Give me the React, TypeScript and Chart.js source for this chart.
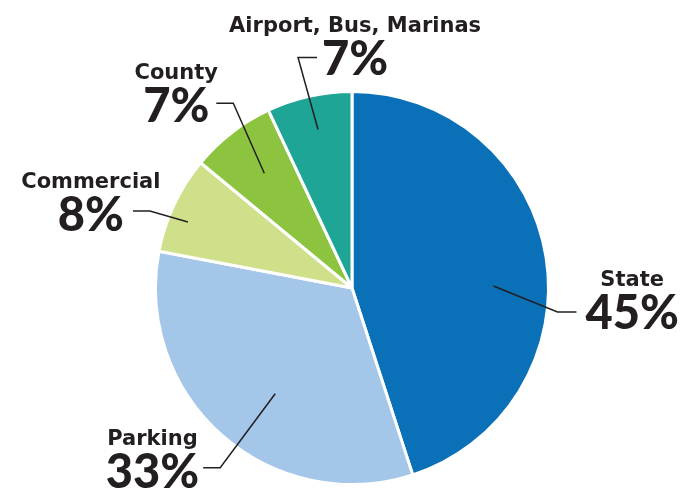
import React, { useEffect, useRef } from "react";
import { Chart, registerables } from "chart.js";

Chart.register(...registerables);

const categories = ["State", "Parking", "Commercial", "County", "Airport, Bus, Marinas"];
const values = [45, 33, 8, 7, 7];
const colors = ["#0a70b8", "#a4c6e8", "#cfe08a", "#8cc43f", "#1fa596"];

// leader-line layout per slice: angle tweak (deg), radius fraction, elbow offset, end run,
// text side, gap between line end and percent text, baseline offset below line
const leaderLayout = [
  { da: 8.2, rf: 0.72, ex: 64, ey: 26, run: 19, side: "right", gap: 9, dy: 17 },
  { da: -5.4, rf: 0.665, ex: -55, ey: 74, run: -17, side: "left", gap: 4, dy: 20 },
  { da: -3.3, rf: 0.9, ex: -38, ey: -11, run: -17, side: "left", gap: 9, dy: 20 },
  { da: 0.4, rf: 0.735, ex: -31, ey: -70, run: -17, side: "left", gap: 7, dy: 19 },
  { da: 0.5, rf: 0.825, ex: -20, ey: -72, run: 19, side: "right", gap: 5, dy: 18 },
];

const PCT_FONT = "900 47px Lato";
const NAME_FONT = "bold 21px 'DejaVu Sans'";

const labelPlugin = {
  id: "leaderLabels",
  afterDraw(chart: any) {
    const ctx = chart.ctx;
    const meta = chart.getDatasetMeta(0);
    const total = values.reduce((a, b) => a + b, 0);
    meta.data.forEach((arc: any, i: number) => {
      const L = leaderLayout[i];
      const mid = (arc.startAngle + arc.endAngle) / 2 + (L.da * Math.PI) / 180;
      const r = arc.outerRadius * L.rf;
      const sx = arc.x + Math.cos(mid) * r;
      const sy = arc.y + Math.sin(mid) * r;
      const bx = sx + L.ex;
      const by = sy + L.ey;
      const endX = bx + L.run;
      ctx.save();
      ctx.strokeStyle = "#231f20";
      ctx.lineWidth = 1.5;
      ctx.beginPath();
      ctx.moveTo(sx, sy);
      ctx.lineTo(bx, by);
      ctx.lineTo(endX, by);
      ctx.stroke();

      const pct = Math.round((values[i] / total) * 100) + "%";
      ctx.fillStyle = "#231f20";
      ctx.textBaseline = "alphabetic";
      ctx.font = PCT_FONT + ", sans-serif";
      const pw = ctx.measureText(pct).width;
      const px = L.side === "right" ? endX + L.gap : endX - L.gap - pw;
      const base = by + L.dy;
      ctx.textAlign = "left";
      ctx.fillText(pct, px, base);
      ctx.font = NAME_FONT + ", sans-serif";
      ctx.textAlign = "center";
      ctx.fillText(categories[i], px + pw / 2, base - 43);
      ctx.restore();
    });
  },
};

export default function App() {
  const ref = useRef<HTMLCanvasElement>(null);
  useEffect(() => {
    document.body.style.margin = "0";
    let chart: any = null;
    let cancelled = false;
    const make = () => {
      if (cancelled || !ref.current) return;
      chart = new Chart(ref.current, {
        type: "pie",
        data: {
          labels: categories,
          datasets: [
            {
              data: values,
              backgroundColor: colors,
              borderColor: "#ffffff",
              borderWidth: 3,
            },
          ],
        },
        options: {
          responsive: false,
          animation: false,
          layout: { padding: { left: 154, right: 144, top: 90, bottom: 3 } },
          plugins: { legend: { display: false }, tooltip: { enabled: false } },
        },
        plugins: [labelPlugin],
      });
    };
    Promise.all([document.fonts.load(PCT_FONT, "0123456789%"), document.fonts.load(NAME_FONT, "Airport")])
      .catch(() => null)
      .then(make);
    return () => {
      cancelled = true;
      if (chart) chart.destroy();
    };
  }, []);
  return <canvas ref={ref} width={694} height={489} style={{ display: "block" }} />;
}
